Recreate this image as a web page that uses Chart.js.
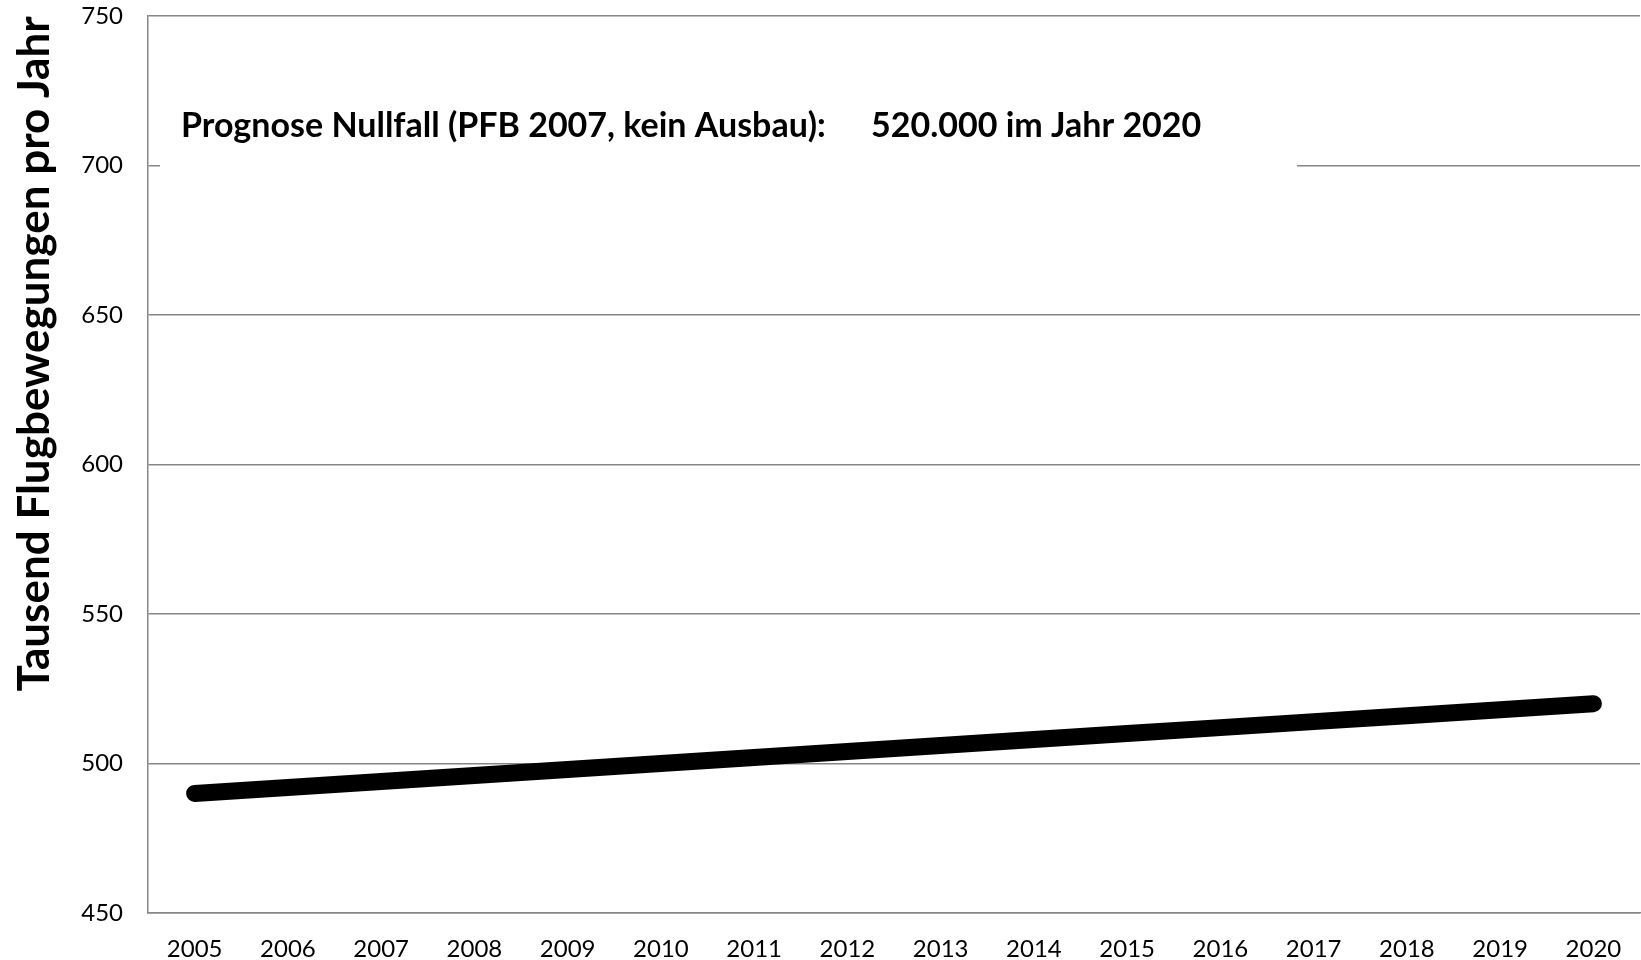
<!DOCTYPE html>
<html>
<head>
<meta charset="utf-8">
<script src="https://cdn.jsdelivr.net/npm/chart.js@4/dist/chart.umd.min.js"></script>
<style>
  body { margin: 0; background: #fff; }
  canvas { display: block; }
</style>
</head>
<body>
<canvas id="myChart" width="1641" height="960"></canvas>
<script>
// Daten
var years = ['2005', '2006', '2007', '2008', '2009', '2010', '2011', '2012',
             '2013', '2014', '2015', '2016', '2017', '2018', '2019', '2020'];
var flugbewegungen = [490, 492, 494, 496, 498, 500, 502, 504,
                      506, 508, 510, 512, 514, 516, 518, 520];
var yTicks = [450, 500, 550, 600, 650, 700, 750];

var yTitle = 'Tausend Flugbewegungen pro Jahr';
var noteLeft = 'Prognose Nullfall (PFB 2007, kein Ausbau):';
var noteRight = '520.000 im Jahr 2020';

Chart.defaults.font.family = 'Lato';
Chart.defaults.color = '#000';

// Textfeld + Achsentitel
var overlay = {
  id: 'overlay',
  afterDraw: function(chart) {
    var ctx = chart.ctx;
    ctx.save();
    ctx.fillStyle = '#fff';
    ctx.fillRect(160, 60, 1137, 112);

    ctx.fillStyle = '#000';
    ctx.font = 'bold 34px Lato';
    ctx.textBaseline = 'middle';
    ctx.textAlign = 'left';
    ctx.fillText(noteLeft, 181, 126);
    ctx.fillText(noteRight, 871, 126);

    ctx.translate(35, 354);
    ctx.rotate(-Math.PI / 2);
    ctx.textAlign = 'center';
    ctx.font = 'bold 44px Lato';
    ctx.fillText(yTitle, 0, 0);
    ctx.restore();
  }
};

var chartArea = document.getElementById('myChart').getContext('2d');
var myChart = new Chart(chartArea, {
  type: 'line',
  data: {
    labels: years,
    datasets: [{
      label: '',
      data: flugbewegungen,
      borderColor: '#000',
      borderWidth: 17,
      borderCapStyle: 'round',
      borderJoinStyle: 'round',
      pointRadius: 0,
      fill: false,
      tension: 0,
    }]
  },
  options: {
    responsive: false,
    animation: false,
    events: [],
    layout: {
      padding: { top: 16, right: 1, left: 0, bottom: 0 }
    },
    plugins: {
      legend: { display: false },
      tooltip: { enabled: false },
    },
    scales: {
      x: {
        offset: true,
        grid: { display: false, drawTicks: false },
        border: { color: '#868686', width: 1.5 },
        ticks: {
          font: { size: 24 },
          padding: 22,
          maxRotation: 0,
          autoSkip: false,
        },
        afterFit: function(scale) {
          scale.height = 47;
          scale.paddingLeft = 0;
          scale.paddingRight = 0;
        }
      },
      y: {
        min: yTicks[0],
        max: yTicks[yTicks.length - 1],
        afterBuildTicks: function(scale) {
          scale.ticks = yTicks.map(function(v) { return { value: v }; });
        },
        grid: { color: '#868686', lineWidth: 1.5, drawTicks: false },
        border: { color: '#868686', width: 1.5 },
        ticks: {
          font: { size: 24 },
          padding: 25,
        },
        afterFit: function(scale) {
          scale.width = 148;
          scale.paddingTop = 0;
          scale.paddingBottom = 0;
        }
      }
    }
  },
  plugins: [overlay]
});
</script>
</body>
</html>
